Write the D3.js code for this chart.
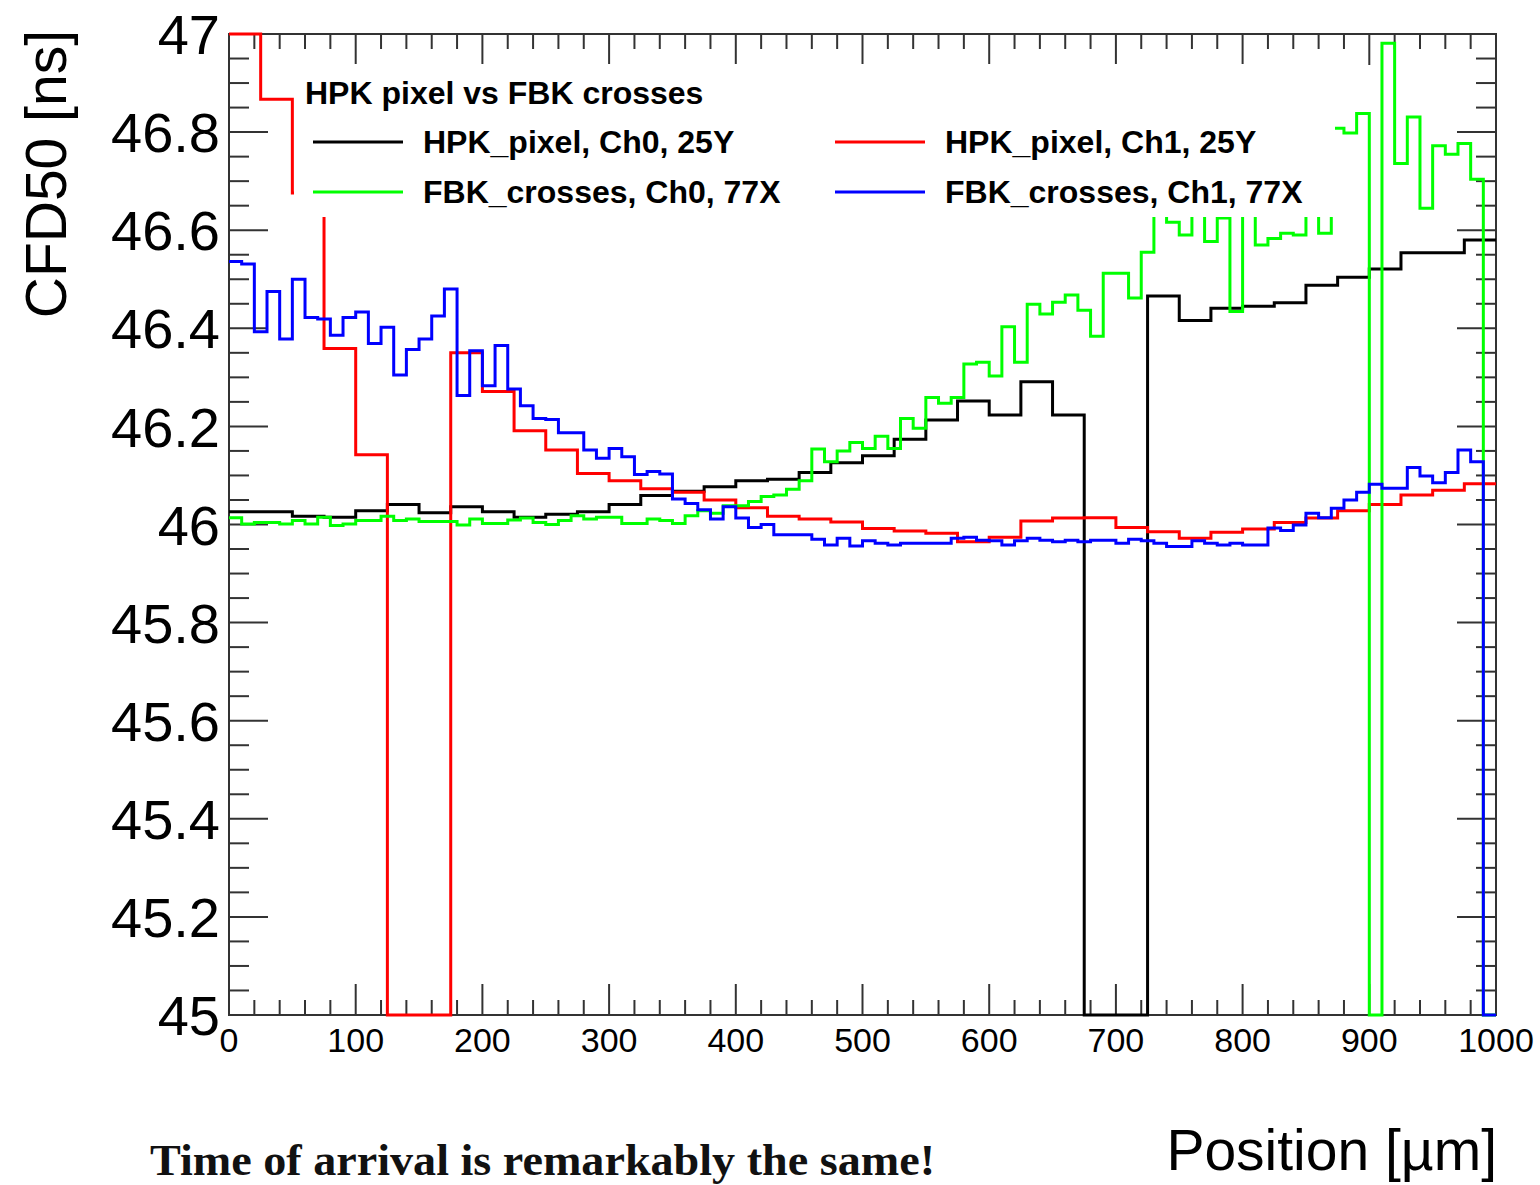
<!DOCTYPE html>
<html>
<head>
<meta charset="utf-8">
<script src="https://cdn.jsdelivr.net/npm/d3@7"></script>
<style>
  html, body { margin: 0; padding: 0; background: #fff; }
  svg { display: block; }
  text { font-family: "Liberation Sans", Arial, sans-serif; fill: #000; }
  text.note { font-family: "Liberation Serif", "DejaVu Serif", serif; }
</style>
</head>
<body>
<svg id="chart" width="1540" height="1185"></svg>
<script>
// CFD50 time of arrival vs. position, four channels
const xRange = [0, 1000];          // Position [µm]
const yRange = [45, 47];           // CFD50 [ns]
const coarseWidth = 25;            // µm per bin, HPK histograms
const fineWidth = 10;              // µm per bin, FBK histograms

// HPK_pixel, Ch0, 25Y (40 bins)
const hpkCh0 = [46.026, 46.026, 46.017, 46.015, 46.028, 46.041, 46.024, 46.036, 46.026, 46.015,
                46.021, 46.026, 46.041, 46.059, 46.068, 46.077, 46.089, 46.092, 46.106, 46.126,
                46.140, 46.174, 46.213, 46.252, 46.223, 46.291, 46.223, 0, 0, 46.466,
                46.416, 46.441, 46.445, 46.452, 46.488, 46.504, 46.521, 46.554, 46.554, 46.580];

// HPK_pixel, Ch1, 25Y (40 bins)
const hpkCh1 = [47.05, 46.867, 46.676, 46.359, 46.142, 0, 0, 46.350, 46.271, 46.191,
                46.152, 46.104, 46.089, 46.073, 46.066, 46.050, 46.034, 46.017, 46.011, 46.005,
                45.992, 45.987, 45.982, 45.965, 45.974, 46.007, 46.013, 46.014, 45.994, 45.985,
                45.972, 45.984, 45.991, 46.004, 46.013, 46.028, 46.041, 46.060, 46.070, 46.083];

// FBK_crosses, Ch0, 77X (100 bins)
const fbkCh0 = [46.014, 46.001, 46.004, 46.004, 46.001, 46.008, 46.001, 46.015, 45.998, 46.001,
                46.008, 46.008, 46.017, 46.008, 46.011, 46.006, 46.006, 46.006, 45.999, 46.011,
                46.002, 46.002, 46.009, 46.013, 46.004, 46.000, 46.008, 46.018, 46.011, 46.015,
                46.015, 46.002, 46.002, 46.011, 46.008, 46.002, 46.018, 46.028, 46.023, 46.038,
                46.038, 46.047, 46.057, 46.060, 46.072, 46.089, 46.154, 46.128, 46.150, 46.167,
                46.155, 46.180, 46.155, 46.216, 46.196, 46.259, 46.247, 46.259, 46.327, 46.331,
                46.303, 46.403, 46.331, 46.449, 46.429, 46.453, 46.468, 46.437, 46.384, 46.512,
                46.512, 46.462, 46.555, 46.660, 46.616, 46.590, 46.660, 46.577, 46.625, 46.434,
                46.660, 46.570, 46.583, 46.594, 46.590, 46.660, 46.594, 46.808, 46.798, 46.838,
                0, 46.981, 46.736, 46.831, 46.645, 46.772, 46.755, 46.777, 46.704, 0];

// FBK_crosses, Ch1, 77X (100 bins)
const fbkCh1 = [46.536, 46.531, 46.393, 46.475, 46.378, 46.500, 46.422, 46.419, 46.386, 46.422,
                46.433, 46.369, 46.402, 46.305, 46.357, 46.378, 46.425, 46.480, 46.263, 46.354,
                46.283, 46.365, 46.276, 46.242, 46.216, 46.214, 46.187, 46.187, 46.152, 46.135,
                46.155, 46.138, 46.102, 46.108, 46.103, 46.052, 46.043, 46.030, 46.011, 46.036,
                46.013, 45.994, 46.000, 45.979, 45.979, 45.979, 45.970, 45.958, 45.972, 45.956,
                45.967, 45.962, 45.958, 45.962, 45.962, 45.962, 45.962, 45.972, 45.974, 45.968,
                45.967, 45.958, 45.967, 45.972, 45.968, 45.965, 45.968, 45.965, 45.968, 45.968,
                45.962, 45.970, 45.967, 45.962, 45.955, 45.955, 45.967, 45.962, 45.958, 45.962,
                45.958, 45.958, 45.993, 45.988, 45.999, 46.023, 46.014, 46.033, 46.050, 46.066,
                46.082, 46.074, 46.074, 46.116, 46.099, 46.085, 46.106, 46.152, 46.128, 0];

const seriesNames = ["HPK_pixel, Ch0, 25Y", "HPK_pixel, Ch1, 25Y", "FBK_crosses, Ch0, 77X", "FBK_crosses, Ch1, 77X"];
const seriesColors = ["#000000", "#ff0000", "#00ff00", "#0000ff"];
const legendTitle = "HPK pixel vs FBK crosses";

const yTickValues = [45, 45.2, 45.4, 45.6, 45.8, 46, 46.2, 46.4, 46.6, 46.8, 47];
const yTickLabels = ["45", "45.2", "45.4", "45.6", "45.8", "46", "46.2", "46.4", "46.6", "46.8", "47"];
const xTickValues = [0, 100, 200, 300, 400, 500, 600, 700, 800, 900, 1000];
const xTickLabels = ["0", "100", "200", "300", "400", "500", "600", "700", "800", "900", "1000"];

const xTitle = "Position [\u00b5m]";
const yTitle = "CFD50 [ns]";
const note = "Time of arrival is remarkably the same!";

// ---- layout ----
const frame = { left: 229, right: 1496, top: 34, bottom: 1015 };
const svg = d3.select("#chart");

const x = d3.scaleLinear().domain(xRange).range([frame.left, frame.right]);
const y = d3.scaleLinear().domain(yRange).range([frame.bottom, frame.top]).clamp(true);

// clip slightly outside the frame so lines lying on the border stay fully visible
svg.append("defs").append("clipPath").attr("id", "plotClip")
  .append("rect")
  .attr("x", frame.left - 2).attr("y", frame.top - 2)
  .attr("width", frame.right - frame.left + 4).attr("height", frame.bottom - frame.top + 4);

// ---- frame and ticks on all four sides ----
const axisColor = "#333";
const gAxes = svg.append("g").attr("stroke", axisColor).attr("stroke-width", 2).attr("fill", "none");
gAxes.append("rect")
  .attr("x", frame.left).attr("y", frame.top)
  .attr("width", frame.right - frame.left).attr("height", frame.bottom - frame.top);

const xMinor = d3.range(xRange[0], xRange[1] + 0.001, 20);
const yMinor = d3.range(0, 41).map(i => yRange[0] + i * 0.05);
const isMajorX = v => Math.abs(v / 100 - Math.round(v / 100)) < 1e-6;
const isMajorY = v => Math.abs(v / 0.2 - Math.round(v / 0.2)) < 1e-6;

xMinor.forEach(v => {
  const len = isMajorX(v) ? 31 : 15;
  const px = x(v);
  gAxes.append("line").attr("x1", px).attr("x2", px).attr("y1", frame.bottom).attr("y2", frame.bottom - len);
  gAxes.append("line").attr("x1", px).attr("x2", px).attr("y1", frame.top).attr("y2", frame.top + len);
});
yMinor.forEach(v => {
  const len = isMajorY(v) ? 39 : 20;
  const py = y(v);
  gAxes.append("line").attr("x1", frame.left).attr("x2", frame.left + len).attr("y1", py).attr("y2", py);
  gAxes.append("line").attr("x1", frame.right).attr("x2", frame.right - len).attr("y1", py).attr("y2", py);
});

// step outline of a histogram: one point per lower bin edge plus the final upper edge
function histPoints(values, width) {
  const pts = values.map((v, i) => [xRange[0] + i * width, v]);
  pts.push([xRange[0] + values.length * width, values[values.length - 1]]);
  return pts;
}
const stepLine = d3.line()
  .x(d => x(d[0]))
  .y(d => y(d[1]))
  .curve(d3.curveStepAfter);

const hists = [
  { values: hpkCh0, width: coarseWidth },
  { values: hpkCh1, width: coarseWidth },
  { values: fbkCh0, width: fineWidth },
  { values: fbkCh1, width: fineWidth }
];

const plot = svg.append("g").attr("clip-path", "url(#plotClip)");
hists.forEach((h, i) => {
  plot.append("path")
    .attr("d", stepLine(histPoints(h.values, h.width)))
    .attr("fill", "none")
    .attr("stroke", seriesColors[i])
    .attr("stroke-width", 3)
    .attr("stroke-linejoin", "miter");
});

// ---- legend (opaque box drawn over the histograms) ----
const legend = svg.append("g");
legend.append("rect")
  .attr("x", 294).attr("y", 64)
  .attr("width", 1335 - 294).attr("height", 217 - 64)
  .attr("fill", "#fff");
legend.append("text")
  .attr("x", 305).attr("y", 104)
  .attr("font-size", 32).attr("font-weight", "bold")
  .text(legendTitle);
const entryPos = [[313, 142], [835, 142], [313, 192], [835, 192]];
seriesNames.forEach((name, i) => {
  const [lx, ly] = entryPos[i];
  legend.append("line")
    .attr("x1", lx).attr("x2", lx + 90)
    .attr("y1", ly).attr("y2", ly)
    .attr("stroke", seriesColors[i]).attr("stroke-width", 3);
  legend.append("text")
    .attr("x", lx + 110).attr("y", ly + 11)
    .attr("font-size", 32).attr("font-weight", "bold")
    .text(name);
});

// ---- tick labels ----
svg.append("g").selectAll("text").data(yTickValues).join("text")
  .attr("x", 220)
  .attr("y", d => y(d))
  .attr("dy", "0.36em")
  .attr("text-anchor", "end")
  .attr("font-size", 56)
  .text((d, i) => yTickLabels[i]);

svg.append("g").selectAll("text").data(xTickValues).join("text")
  .attr("x", d => x(d))
  .attr("y", 1052)
  .attr("text-anchor", "middle")
  .attr("font-size", 34)
  .text((d, i) => xTickLabels[i]);

// ---- axis titles ----
svg.append("text")
  .attr("transform", "translate(66,30) rotate(-90)")
  .attr("text-anchor", "end")
  .attr("font-size", 57)
  .text(yTitle);

svg.append("text")
  .attr("x", 1497).attr("y", 1170)
  .attr("text-anchor", "end")
  .attr("font-size", 57)
  .text(xTitle);

svg.append("text")
  .attr("class", "note")
  .attr("x", 150).attr("y", 1175)
  .attr("font-weight", "bold")
  .attr("font-size", 44)
  .attr("textLength", 785)
  .attr("lengthAdjust", "spacingAndGlyphs")
  .style("fill", "#111")
  .text(note);
</script>
</body>
</html>
